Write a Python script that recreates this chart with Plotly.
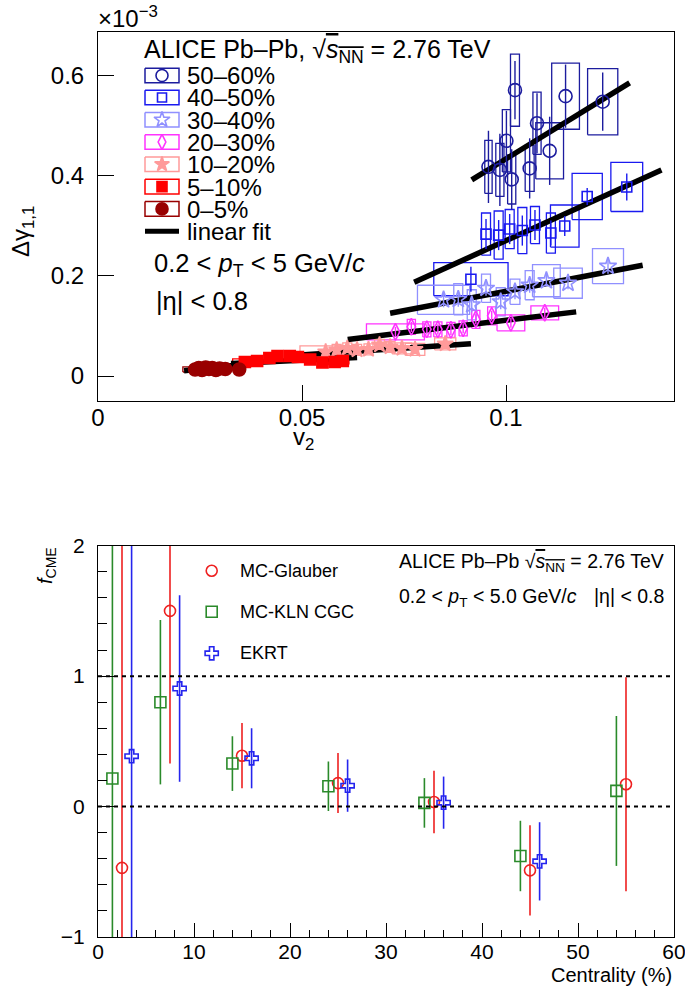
import plotly.graph_objects as go

FONT = "Liberation Sans, Arial, sans-serif"

# ---------------- top panel data (Delta gamma_{1,1} in units of 1e-3 vs v2) ----------------
classes = ["50–60%", "40–50%", "30–40%", "20–30%", "10–20%", "5–10%", "0–5%"]
colors = ["#1c1c9e", "#1a1af0", "#9090ff", "#ff33ff", "#ff9a9a", "#ff0000", "#990000"]
symbols = ["circle-open", "square-open", "star-open", "diamond-tall-open", "star", "square", "circle"]
msizes = [13, 10, 13, 12, 12, 11, 13]

v2_5060 = [0.0957, 0.0985, 0.1001, 0.1014, 0.1022, 0.1058, 0.1076, 0.1107, 0.1146, 0.1237]
g_5060 = [0.417, 0.411, 0.469, 0.392, 0.570, 0.414, 0.504, 0.449, 0.558, 0.547]
st_5060 = [0.072, 0.072, 0.060, 0.060, 0.058, 0.060, 0.060, 0.068, 0.063, 0.058]
sx_5060 = [0.0009, 0.0010, 0.0010, 0.0010, 0.0011, 0.0011, 0.0010, 0.0034, 0.0034, 0.0037]
sy_5060 = [0.053, 0.053, 0.062, 0.049, 0.072, 0.046, 0.062, 0.056, 0.066, 0.066]

v2_4050 = [0.0914, 0.0951, 0.0982, 0.1009, 0.1040, 0.1071, 0.1110, 0.1144, 0.1199, 0.1296]
g_4050 = [0.193, 0.283, 0.281, 0.293, 0.290, 0.301, 0.285, 0.299, 0.358, 0.377]
st_4050 = [0.025, 0.030, 0.030, 0.030, 0.030, 0.030, 0.025, 0.020, 0.017, 0.027]
sx_4050 = [0.0091, 0.0011, 0.0011, 0.0011, 0.0011, 0.0011, 0.0011, 0.0035, 0.0037, 0.0039]
sy_4050 = [0.033, 0.042, 0.048, 0.039, 0.046, 0.037, 0.040, 0.042, 0.046, 0.049]

v2_3040 = [0.0847, 0.0883, 0.0916, 0.0951, 0.0987, 0.1022, 0.1058, 0.1099, 0.1152, 0.1250]
g_3040 = [0.152, 0.153, 0.142, 0.175, 0.148, 0.168, 0.181, 0.190, 0.185, 0.219]
st_3040 = [0.015, 0.015, 0.015, 0.015, 0.015, 0.015, 0.015, 0.012, 0.012, 0.015]
sx_3040 = [0.0064, 0.0011, 0.0011, 0.0011, 0.0011, 0.0012, 0.0011, 0.0034, 0.0035, 0.0038]
sy_3040 = [0.029, 0.031, 0.030, 0.028, 0.028, 0.025, 0.029, 0.032, 0.030, 0.035]

v2_2030 = [0.0729, 0.0768, 0.0806, 0.0833, 0.0865, 0.0895, 0.0926, 0.0965, 0.1012, 0.1095]
g_2030 = [0.088, 0.098, 0.093, 0.093, 0.092, 0.095, 0.113, 0.120, 0.106, 0.126]
st_2030 = [0.010, 0.010, 0.010, 0.010, 0.010, 0.010, 0.010, 0.010, 0.010, 0.010]
sx_2030 = [0.0071, 0.0010, 0.0010, 0.0010, 0.0010, 0.0010, 0.0010, 0.0010, 0.0034, 0.0034]
sy_2030 = [0.016, 0.015, 0.015, 0.015, 0.015, 0.015, 0.018, 0.018, 0.016, 0.014]

v2_1020 = [0.0558, 0.0585, 0.0611, 0.0635, 0.0663, 0.0690, 0.0716, 0.0745, 0.0777, 0.0851]
g_1020 = [0.048, 0.052, 0.055, 0.052, 0.053, 0.062, 0.058, 0.055, 0.053, 0.064]
st_1020 = [0.008, 0.008, 0.008, 0.008, 0.008, 0.008, 0.008, 0.008, 0.008, 0.008]
sx_1020 = [0.0063, 0.0011, 0.0011, 0.0011, 0.0011, 0.0012, 0.0012, 0.0024, 0.0024, 0.0026]
sy_1020 = [0.012, 0.011, 0.011, 0.011, 0.011, 0.011, 0.011, 0.011, 0.012, 0.012]

v2_510 = [0.0360, 0.0390, 0.0420, 0.0440, 0.0470, 0.0490, 0.0520, 0.0550, 0.0580, 0.0600]
g_510 = [0.028, 0.030, 0.036, 0.040, 0.040, 0.038, 0.033, 0.027, 0.028, 0.030]
st_510 = [0.004, 0.004, 0.004, 0.004, 0.004, 0.004, 0.004, 0.004, 0.004, 0.004]
sx_510 = [0.0030, 0.0010, 0.0010, 0.0010, 0.0010, 0.0010, 0.0010, 0.0010, 0.0015, 0.0015]
sy_510 = [0.006, 0.006, 0.006, 0.006, 0.006, 0.006, 0.006, 0.006, 0.006, 0.006]

v2_005 = [0.0238, 0.0247, 0.0255, 0.0264, 0.0272, 0.0280, 0.0289, 0.0298, 0.0312, 0.0346]
g_005 = [0.013, 0.016, 0.012, 0.017, 0.014, 0.016, 0.012, 0.015, 0.014, 0.013]
st_005 = [0.003, 0.003, 0.003, 0.003, 0.003, 0.003, 0.003, 0.003, 0.003, 0.003]
sx_005 = [0.0030, 0.0008, 0.0008, 0.0008, 0.0008, 0.0008, 0.0008, 0.0008, 0.0008, 0.0008]
sy_005 = [0.005, 0.004, 0.004, 0.004, 0.004, 0.004, 0.004, 0.004, 0.004, 0.004]

# linear fits: intercept, slope, v2 range
fit_a = [-0.067, -0.100, 0.014, 0.013, 0.015, 0.012, -0.008]
fit_b = [5.00, 3.70, 1.55, 0.98, 0.54, 0.39, 0.88]
fit_lo = [0.0916, 0.0775, 0.0716, 0.0612, 0.0468, 0.0326, 0.0211]
fit_hi = [0.1303, 0.1381, 0.1335, 0.1172, 0.0914, 0.0635, 0.0370]

top_x = [v2_5060, v2_4050, v2_3040, v2_2030, v2_1020, v2_510, v2_005]
top_y = [g_5060, g_4050, g_3040, g_2030, g_1020, g_510, g_005]
top_st = [st_5060, st_4050, st_3040, st_2030, st_1020, st_510, st_005]
top_sx = [sx_5060, sx_4050, sx_3040, sx_2030, sx_1020, sx_510, sx_005]
top_sy = [sy_5060, sy_4050, sy_3040, sy_2030, sy_1020, sy_510, sy_005]

# ---------------- bottom panel data (f_CME vs centrality) ----------------
cent_glauber = [2.5, 7.5, 15, 25, 35, 45, 55]
f_glauber = [-0.47, 1.50, 0.39, 0.18, 0.035, -0.489, 0.171]
e_glauber = [3.0, 1.17, 0.25, 0.23, 0.24, 0.346, 0.82]

cent_kln = [1.5, 6.5, 14, 24, 34, 44, 54]
f_kln = [0.215, 0.80, 0.33, 0.156, 0.028, -0.379, 0.12]
e_kln = [3.0, 0.63, 0.21, 0.19, 0.19, 0.27, 0.575]

cent_ekrt = [3.5, 8.5, 16, 26, 36, 46]
f_ekrt = [0.386, 0.905, 0.37, 0.16, 0.03, -0.42]
e_ekrt = [3.0, 0.715, 0.23, 0.20, 0.20, 0.30]

bot_names = ["MC-Glauber", "MC-KLN CGC", "EKRT"]
bot_colors = ["#ee2020", "#2a8a2a", "#2525ee"]
bot_symbols = ["circle-open", "square-open", "cross-open"]

# ---------------- geometry (pixels) ----------------
W, H = 685, 992
L, R, T, B = 98, 11, 32, 55
PW, PH = W - L - R, H - T - B
TOP_PX = (32, 401)
BOT_PX = (545.7, 937)


def pxx(x):
    return (x - L) / PW


def pxy(y):
    return (H - B - y) / PH


def rect_path(xs, ys, dxs, dys):
    X, Y = [], []
    for x, y, dx, dy in zip(xs, ys, dxs, dys):
        X += [x - dx, x + dx, x + dx, x - dx, x - dx, None]
        Y += [y - dy, y - dy, y + dy, y + dy, y - dy, None]
    return X, Y


fig = go.Figure()

# --- systematic boxes
for i in range(len(classes)):
    X, Y = rect_path(top_x[i], top_y[i], top_sx[i], top_sy[i])
    fig.add_trace(go.Scatter(x=X, y=Y, mode="lines", line=dict(color=colors[i], width=1.3),
                             xaxis="x", yaxis="y", showlegend=False, hoverinfo="skip"))
# --- fits
for i in range(len(classes)):
    fx = [fit_lo[i], fit_hi[i]]
    fy = [fit_a[i] + fit_b[i] * v for v in fx]
    fig.add_trace(go.Scatter(x=fx, y=fy, mode="lines", line=dict(color="black", width=5.5),
                             xaxis="x", yaxis="y", showlegend=False, hoverinfo="skip"))
# --- points with stat errors
for i in range(len(classes)):
    fig.add_trace(go.Scatter(
        x=top_x[i], y=top_y[i], mode="markers", xaxis="x", yaxis="y", showlegend=False,
        marker=dict(symbol=symbols[i], size=msizes[i], color=colors[i],
                    line=dict(color=colors[i], width=1.6)),
        error_y=dict(type="data", array=top_st[i], color=colors[i], thickness=1.4, width=0)))

# --- top legend (drawn in pixel-space overlay axes)
row_y = [75.5, 97.5, 119.8, 142.0, 164.3, 186.6, 208.9]
fit_row_y = 231.2
for i in range(len(classes)):
    X, Y = rect_path([162], [row_y[i]], [17], [7.3])
    fig.add_trace(go.Scatter(x=X, y=Y, mode="lines", line=dict(color=colors[i], width=1.5),
                             xaxis="x3", yaxis="y3", showlegend=False, hoverinfo="skip"))
    fig.add_trace(go.Scatter(x=[162], y=[row_y[i]], mode="markers", xaxis="x3", yaxis="y3",
                             showlegend=False, hoverinfo="skip",
                             marker=dict(symbol=symbols[i], size=msizes[i] - 1, color=colors[i],
                                         line=dict(color=colors[i], width=1.6))))
fig.add_trace(go.Scatter(x=[145, 179], y=[fit_row_y, fit_row_y], mode="lines",
                         line=dict(color="black", width=5), xaxis="x3", yaxis="y3",
                         showlegend=False, hoverinfo="skip"))

# --- bottom panel points
for cx, fy, ey, col, sym in zip([cent_glauber, cent_kln, cent_ekrt], [f_glauber, f_kln, f_ekrt],
                                 [e_glauber, e_kln, e_ekrt], bot_colors, bot_symbols):
    fig.add_trace(go.Scatter(
        x=cx, y=fy, mode="markers", xaxis="x2", yaxis="y2", showlegend=False,
        marker=dict(symbol=sym, size=11, color=col, line=dict(color=col, width=1.6)),
        error_y=dict(type="data", array=ey, color=col, thickness=1.6, width=0)))

# --- bottom legend markers (pixel overlay)
leg_y = [570.7, 611.7, 653.3]
for j in range(3):
    fig.add_trace(go.Scatter(x=[211.7], y=[leg_y[j]], mode="markers", xaxis="x4", yaxis="y4",
                             showlegend=False, hoverinfo="skip",
                             marker=dict(symbol=bot_symbols[j], size=11, color=bot_colors[j],
                                         line=dict(color=bot_colors[j], width=1.6))))

axis_common = dict(showline=True, linecolor="black", linewidth=1, mirror=True, ticks="inside",
                   tickcolor="black", showgrid=False, zeroline=False, automargin=False,
                   tickfont=dict(family=FONT, size=24, color="black"))

top_dom = [pxy(TOP_PX[1]), pxy(TOP_PX[0])]
bot_dom = [pxy(BOT_PX[1]), pxy(BOT_PX[0])]

fig.update_layout(
    width=W, height=H, margin=dict(l=L, r=R, t=T, b=B, autoexpand=False),
    paper_bgcolor="white", plot_bgcolor="rgba(0,0,0,0)",
    font=dict(family=FONT, color="black"),
    showlegend=False,
    xaxis=dict(axis_common, range=[0, PW / 4080.0], tickvals=[0, 0.05, 0.1],
               ticktext=["0", "0.05", "0.1"], ticklen=16, anchor="y", ticklabelstandoff=-5),
    yaxis=dict(axis_common, domain=top_dom, range=[(376 - 401) / 501.5, (376 - 32) / 501.5],
               tickvals=[0, 0.2, 0.4, 0.6], ticktext=["0", "0.2", "0.4", "0.6"], ticklen=16,
               anchor="x", ticklabelstandoff=8),
    xaxis2=dict(axis_common, range=[0, 60], tickvals=[0, 10, 20, 30, 40, 50, 60], ticklen=14,
                anchor="y2", tickfont=dict(family=FONT, size=21, color="black"),
                minor=dict(ticks="inside", ticklen=7, dtick=2, tickcolor="black"),
                ticklabelstandoff=-4, ticklabeloverflow="allow"),
    yaxis2=dict(axis_common, domain=bot_dom, range=[-1, 2], tickvals=[-1, 0, 1, 2],
                ticktext=["−1", "0", "1", "2"], ticklen=16, anchor="x2",
                tickfont=dict(family=FONT, size=21, color="black"),
                minor=dict(ticks="inside", ticklen=9, dtick=0.2, tickcolor="black"),
                ticklabelstandoff=8),
    xaxis3=dict(overlaying="x", anchor="y3", range=[L, W - R], visible=False),
    yaxis3=dict(overlaying="y", anchor="x3", range=[TOP_PX[1], TOP_PX[0]], visible=False),
    xaxis4=dict(overlaying="x2", anchor="y4", range=[L, W - R], visible=False),
    yaxis4=dict(overlaying="y2", anchor="x4", range=[BOT_PX[1], BOT_PX[0]], visible=False),
)

# dashed reference lines at 0 and 1
for yv in [0, 1]:
    fig.add_shape(type="line", xref="x2 domain", yref="y2", x0=0, x1=1, y0=yv, y1=yv,
                  line=dict(color="black", width=2, dash="4px,4px"))

ann = []


def add_text(text, x, y, size, xanchor="left", yanchor="middle", angle=0):
    ann.append(dict(text=text, x=pxx(x), y=pxy(y), xref="paper", yref="paper",
                    xanchor=xanchor, yanchor=yanchor, showarrow=False, textangle=angle,
                    font=dict(family=FONT, size=size, color="black")))


sqrt_s = "√<span style='text-decoration:overline'><i>s</i><sub>NN</sub></span>"
# top panel texts
add_text("ALICE Pb–Pb, " + sqrt_s + " = 2.76 TeV", 142, 51, 25)
for i in range(len(classes)):
    add_text(classes[i], 185, row_y[i] + 0.5, 24)
add_text("linear fit", 185, fit_row_y, 24)
add_text("0.2 < <i>p</i><sub>T</sub> < 5 GeV/<i>c</i>", 152, 265, 25.5)
add_text("|η| < 0.8", 154, 301, 25.5)
add_text("×10<sup>−3</sup>", 96, 17, 24)
add_text("Δγ<sub>1,1</sub>", 22, 232, 24, xanchor="center", angle=-90)
add_text("v<sub>2</sub>", 303, 438, 24, xanchor="center")

# bottom panel texts
for j in range(3):
    add_text(bot_names[j], 238, leg_y[j], 18)
add_text("ALICE Pb–Pb " + sqrt_s + " = 2.76 TeV", 397, 562, 19.5)
add_text("0.2 < <i>p</i><sub>T</sub> < 5.0 GeV/<i>c</i>", 397, 597, 19.5)
add_text("|η| < 0.8", 666, 596, 19.5, xanchor="right")
add_text("<i>f</i><sub>CME</sub>", 46, 566, 20, xanchor="center", angle=-90)
add_text("Centrality (%)", 674, 975, 20, xanchor="right")

fig.update_layout(annotations=ann)

fig.write_html("out.html", post_script="document.body.style.margin='0px';",
               config={"displayModeBar": False})
